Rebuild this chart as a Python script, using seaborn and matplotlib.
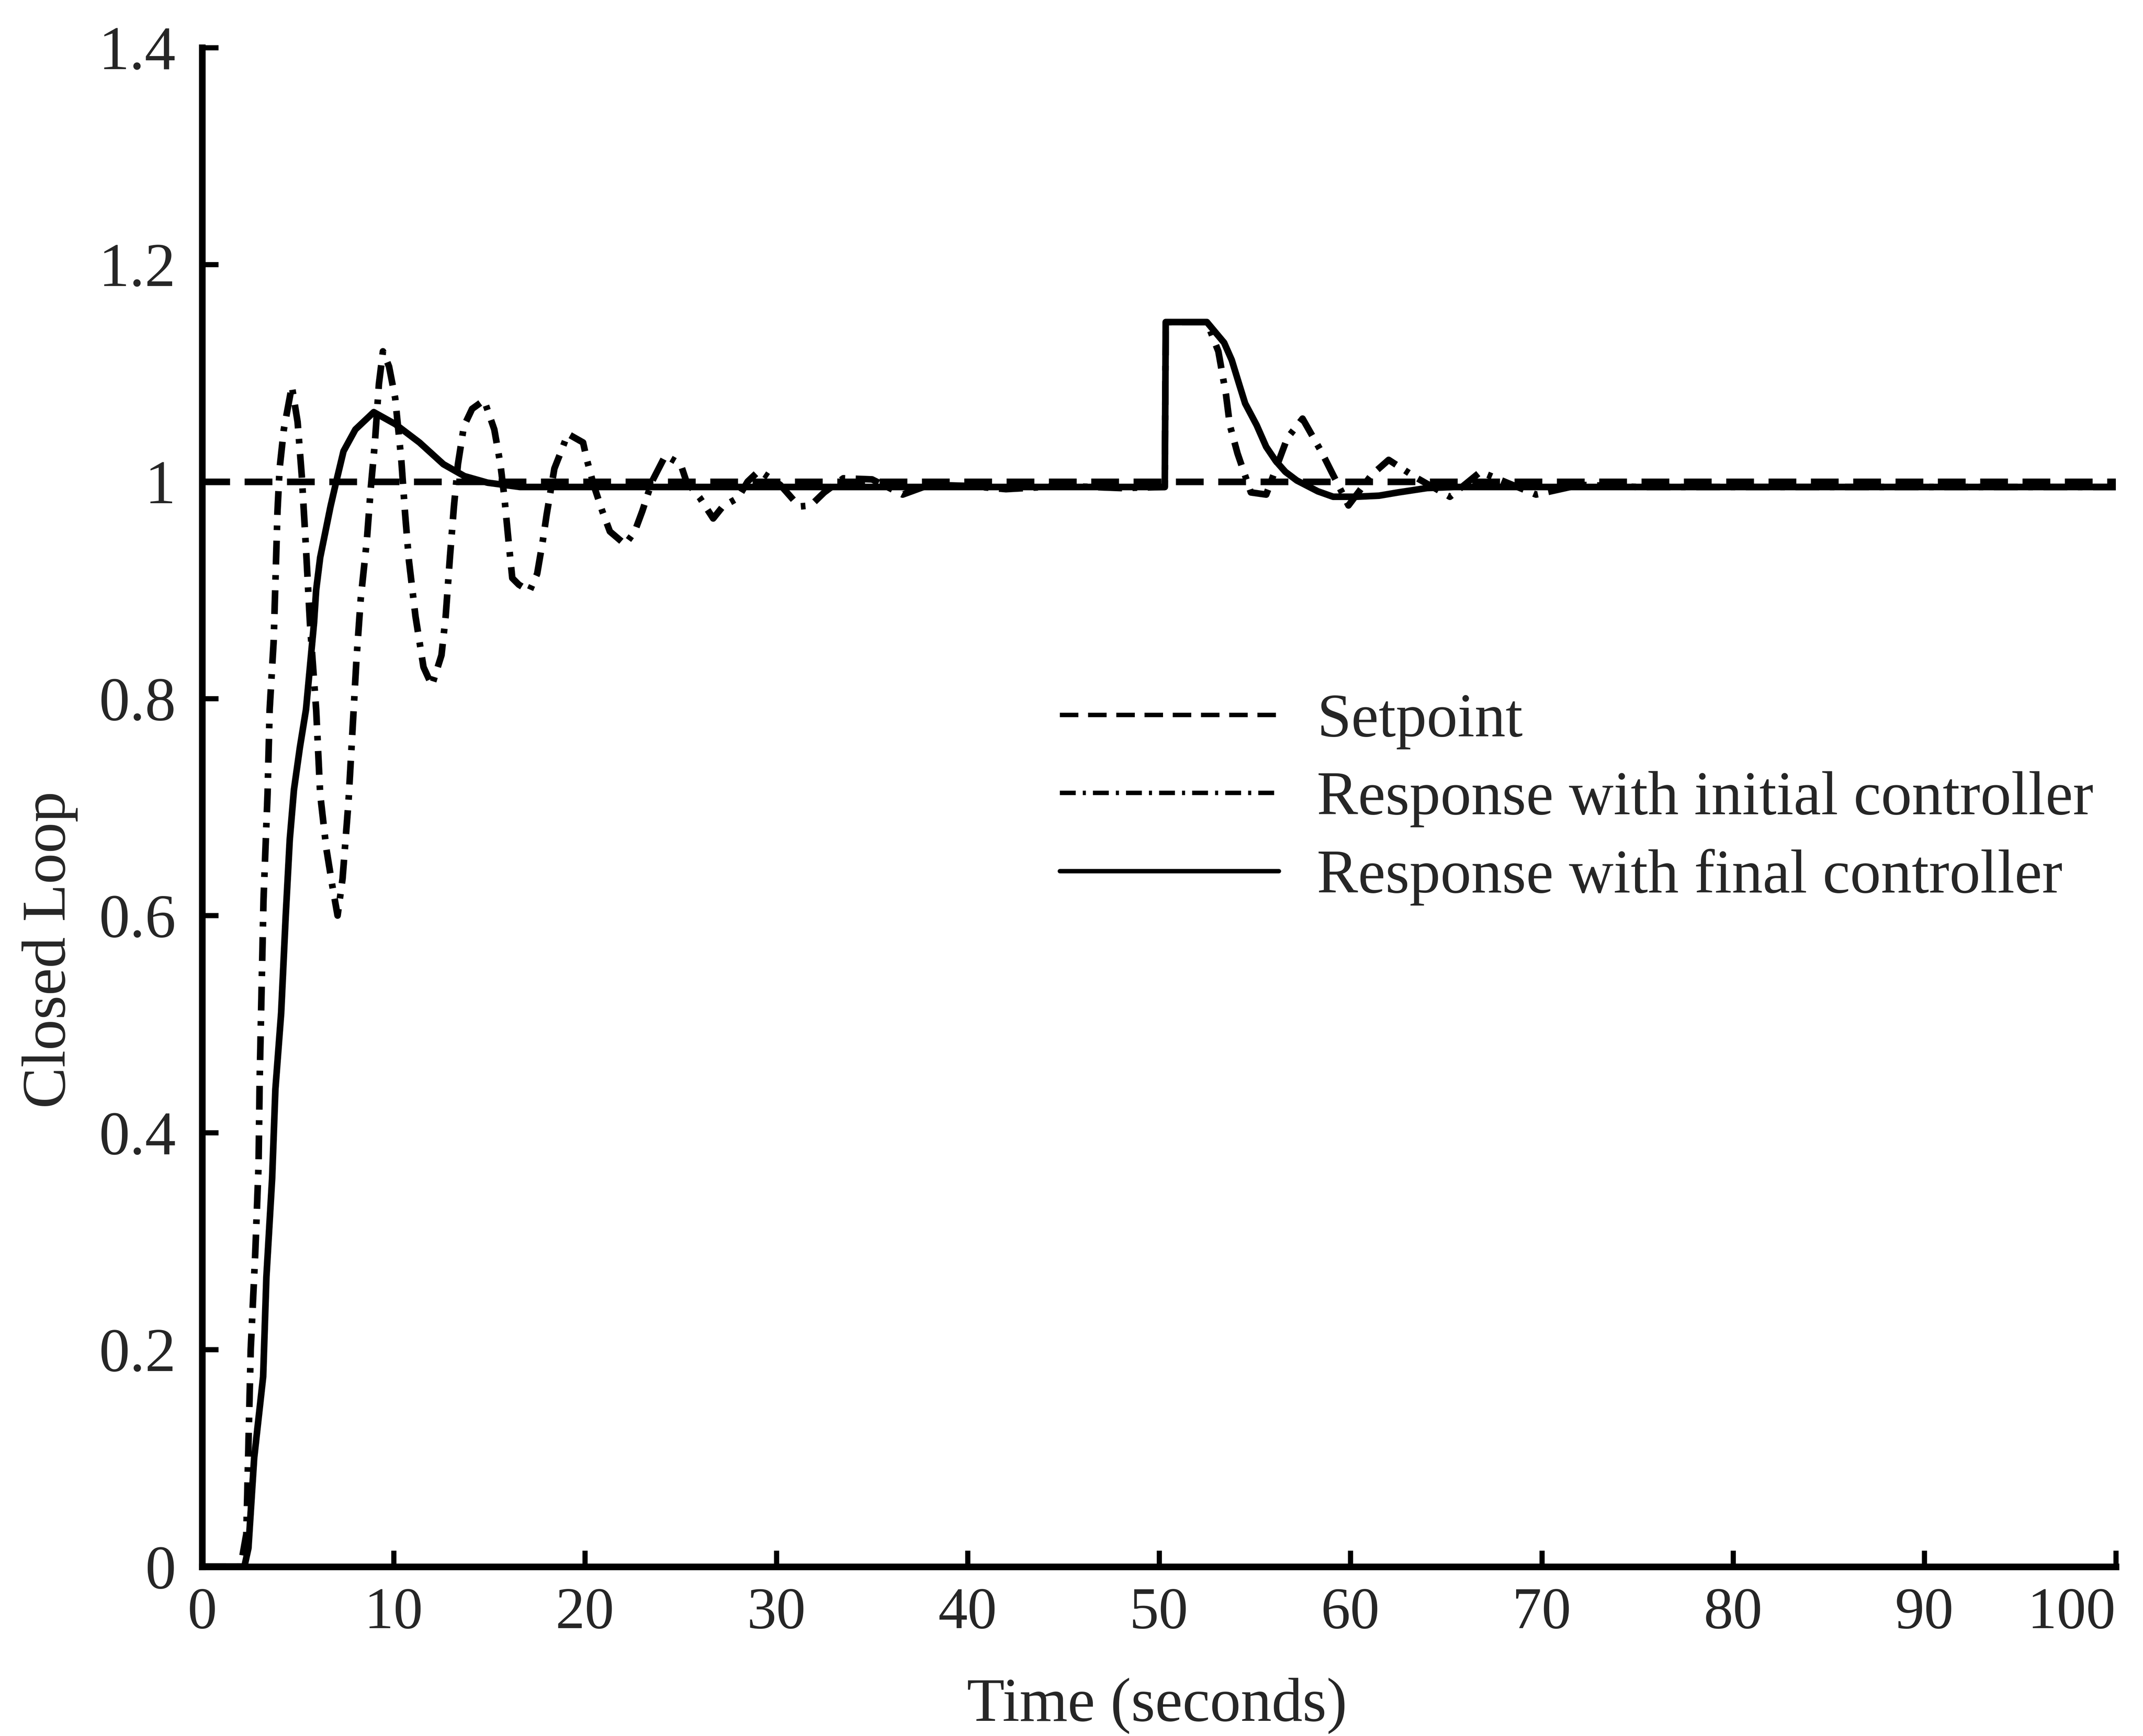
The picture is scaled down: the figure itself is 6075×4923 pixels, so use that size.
import numpy as np
import pandas as pd
import matplotlib
matplotlib.use('Agg')
import matplotlib.pyplot as plt
import seaborn as sns

# setpoint
t_setpoint = [0, 100]
y_setpoint = [1.0, 1.0]

# response with initial controller (dash-dot)
t_initial = [0, 2.0, 2.3, 2.53, 2.77, 2.94, 3.0, 3.12, 3.2, 3.41, 3.52, 3.73, 3.82, 3.93, 4.04,
             4.26, 4.68, 4.98, 5.2, 5.42, 5.63, 5.95, 6.16, 6.48, 6.8, 7.07, 7.33, 7.64, 7.85,
             8.06, 8.28, 8.6, 8.8, 9.02, 9.23, 9.44, 9.76, 10.08, 10.4, 10.6, 10.8, 11.14, 11.56,
             12.0, 12.5, 12.72, 12.94, 13.15, 13.36, 13.67, 14.1, 14.73, 15.26, 15.58, 15.79,
             16.0, 16.2, 16.54, 17.1, 17.5, 17.8, 18.0, 18.4, 18.8, 19.1, 19.9, 20.1, 20.45,
             20.9, 21.3, 22.1, 22.6, 23.0, 23.5, 24.2, 25.0, 25.3, 26.0, 26.7, 27.2, 28.0, 28.5,
             29.1, 30.2, 31.2, 31.8, 32.5, 33.5, 35.0, 36.6, 38.0, 40.0, 42.0, 45.0, 48.0,
             50.3, 50.35, 52.5, 53.1, 53.5, 53.7, 54.1, 54.8, 55.6, 56.7, 57.5, 58.5, 59.9,
             61.1, 62.0, 63.4, 65.2, 66.8, 69.7, 72.0, 75.0, 80.0, 90.0, 100.0]
y_initial = [0, 0, 0.03, 0.2, 0.29, 0.37, 0.45, 0.55, 0.615, 0.712, 0.79, 0.853, 0.907, 0.973, 1.012,
             1.048, 1.088, 1.055, 1.005, 0.938, 0.868, 0.79, 0.712, 0.662, 0.627, 0.6, 0.634, 0.705, 0.771,
             0.837, 0.892, 0.946, 0.993, 1.036, 1.09, 1.12, 1.106, 1.077, 1.02, 0.97, 0.927, 0.876, 0.829,
             0.812, 0.84, 0.876, 0.93, 0.977, 1.016, 1.051, 1.067, 1.075, 1.048, 1.016, 0.985,
             0.946, 0.911, 0.905, 0.899, 0.915, 0.946, 0.97, 1.012, 1.03, 1.044, 1.036, 1.02, 0.997,
             0.973, 0.954, 0.942, 0.954, 0.973, 1.0, 1.024, 1.016, 1.0, 0.985, 0.966, 0.977, 0.985, 1.0,
             1.01, 0.997, 0.977, 0.978, 0.99, 1.003, 1.002, 0.988, 0.997, 0.996, 0.993, 0.996, 0.994,
             0.995, 1.147, 1.147, 1.12, 1.08, 1.052, 1.026, 0.99, 0.988, 1.04, 1.058, 1.027, 0.978,
             1.006, 1.02, 1.004, 0.986, 1.009, 0.988, 0.997, 0.995, 0.995, 0.995, 0.995]

# response with final controller (solid)
t_final = [0, 2.2, 2.41, 2.71, 3.18, 3.35, 3.65, 3.82, 4.12, 4.36, 4.57, 4.79, 5.1, 5.42, 5.63,
           5.84, 5.95, 6.16, 6.7, 7.0, 7.38, 8.0, 8.96, 10.08, 11.35, 12.6, 13.7, 14.9, 16.6,
           20.0, 30.0, 40.0, 50.3, 50.35, 52.5, 53.4, 53.8, 54.2, 54.5, 55.1, 55.6, 56.1, 56.6,
           57.2, 58.3, 59.1, 60.3, 61.5, 62.5, 64.0, 65.4, 70.0, 80.0, 90.0, 100.0]
y_final = [0, 0, 0.017, 0.1, 0.175, 0.267, 0.358, 0.44, 0.51, 0.6, 0.67, 0.716, 0.755, 0.79, 0.83,
           0.87, 0.9, 0.93, 0.977, 1.0, 1.028, 1.048, 1.064, 1.053, 1.036, 1.016, 1.005, 0.999, 0.995,
           0.995, 0.995, 0.995, 0.995, 1.147, 1.147, 1.128, 1.112, 1.089, 1.072, 1.052, 1.032, 1.019, 1.009,
           1.001, 0.991, 0.986, 0.986, 0.987, 0.99, 0.994, 0.995, 0.995, 0.995, 0.995, 0.995]

x_ticks = [0, 10, 20, 30, 40, 50, 60, 70, 80, 90, 100]
y_ticks = [0, 0.2, 0.4, 0.6, 0.8, 1.0, 1.2, 1.4]
y_ticklabels = ['0', '0.2', '0.4', '0.6', '0.8', '1', '1.2', '1.4']
legend_labels = ['Setpoint', 'Response with initial controller', 'Response with final controller']


def main():
    sns.set_style('ticks')
    plt.rcParams['font.family'] = ['Liberation Serif', 'DejaVu Serif']
    plt.rcParams['font.size'] = 42

    fig = plt.figure(figsize=(20.25, 16.41), dpi=300)
    ax = fig.add_axes([0.0944, 0.0976, 0.8929, 0.875])

    lw = 4.5
    sns.lineplot(x=t_setpoint, y=y_setpoint, ax=ax, color='black', linewidth=lw,
                 linestyle=(0, (4.2, 2.2)), estimator=None, sort=False, label=legend_labels[0])
    sns.lineplot(x=t_initial, y=y_initial, ax=ax, color='black', linewidth=lw,
                 linestyle=(0, (3.6, 1.6, 0.7, 1.6)), estimator=None, sort=False, label=legend_labels[1])
    sns.lineplot(x=t_final, y=y_final, ax=ax, color='black', linewidth=lw,
                 linestyle='-', estimator=None, sort=False, label=legend_labels[2])

    ax.set_xlim(0, 100)
    ax.set_ylim(0, 1.4)
    ax.set_xticks(x_ticks)
    ax.set_xticklabels([str(v) for v in x_ticks])
    ax.set_yticks(y_ticks)
    ax.set_yticklabels(y_ticklabels)
    ax.tick_params(axis='both', direction='in', length=11, width=3.5, color='black')
    ax.tick_params(axis='x', pad=14, labelsize=40)
    ax.tick_params(axis='y', pad=18, labelsize=42)
    # last x label sits left of the tick in the original
    ax.get_xticklabels()[-1].set_horizontalalignment('right')
    sns.despine(ax=ax)
    for side in ['left', 'bottom']:
        ax.spines[side].set_linewidth(4.5)
        ax.spines[side].set_color('black')

    ax.set_xlabel('Time (seconds)', fontsize=42)
    ax.set_ylabel('Closed Loop', fontsize=42)
    ax.xaxis.set_label_coords(0.499, -0.073)
    ax.yaxis.set_label_coords(-0.065, 0.406)

    leg = ax.legend(loc='upper left', bbox_to_anchor=(0.448, 0.575), frameon=False,
                    fontsize=42, handlelength=3.55, handletextpad=0.62, labelspacing=0.35,
                    borderpad=0, borderaxespad=0)
    for line in leg.get_lines():
        line.set_linewidth(3)

    fig.savefig('out.png', dpi=300, facecolor='white')


if __name__ == '__main__':
    main()
